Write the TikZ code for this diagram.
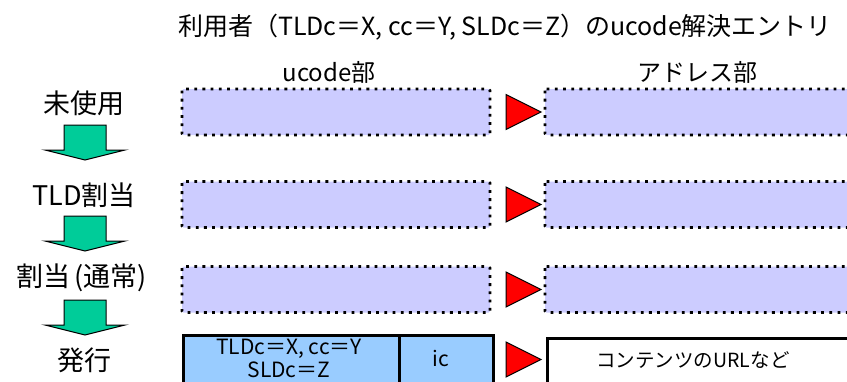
\documentclass[tikz,border=0pt]{standalone}
\usepackage{fontspec}
\setmainfont{Noto Sans CJK JP}
\begin{document}
\begin{tikzpicture}[x=1pt,y=-1pt,
  dotbox/.style={draw=black,line width=2.6pt,dash pattern=on 2.8pt off 5.4pt,fill=lav,rounded corners=1.5pt},
  solidbox/.style={draw=black,line width=3pt},
  tri/.style={draw=black,line width=1pt,fill=red},
  garrow/.style={draw=black,line width=1pt,fill=tealg},
  lbl/.style={font=\fontsize{27}{30}\selectfont,inner sep=0pt},
  hdr/.style={font=\fontsize{24}{26}\selectfont,inner sep=0pt},
  small/.style={font=\fontsize{19.5}{23}\selectfont,inner sep=0pt,align=center}]
\definecolor{lav}{HTML}{CCCCFF}
\definecolor{tealg}{HTML}{00CC99}
\definecolor{lblue}{HTML}{99CCFF}
\useasboundingbox (0,0) rectangle (847,381);
% title and headers
\node[hdr,font=\fontsize{25}{28}\selectfont] (title) at (505,27) {利用者（TLDc＝X, cc＝Y, SLDc＝Z）のucode解決エントリ};
\node[hdr] (hu) at (329,72) {ucode部};
\node[hdr] (ha) at (697,72) {アドレス部};
% left labels
\node[lbl] (l1) at (84,103) {未使用};
\node[lbl] (l2) at (84,195) {TLD割当};
\node[lbl] (l3) at (84,278) {割当\,(通常)\,};
\node[lbl] (l4) at (84,360) {発行};
% green arrows
\foreach \t/\n in {125/a1,216/a2,300/a3}{
  \draw[garrow] (64,\t) -- (106,\t) -- (106,\t+25) -- (125,\t+25) -- (85,\t+35) -- (45,\t+25) -- (64,\t+25) -- cycle;
}
% rows of dotted boxes
\foreach \c/\n in {112/r1,204.5/r2,289.5/r3}{
  \draw[dotbox] (182,\c-23) rectangle (490,\c+23);
  \draw[dotbox] (545,\c-23) rectangle (860,\c+23);
  \draw[tri] (506,\c-17.5) -- (541,\c) -- (506,\c+17.5) -- cycle;
}
% issued row
\node[solidbox,fill=lblue,minimum width=216pt,minimum height=70pt,anchor=north west,inner sep=0pt] (tl) at (181.5,333.5) {};
\node[solidbox,fill=lblue,minimum width=94pt,minimum height=70pt,anchor=north west,inner sep=0pt] (ic) at (397.5,333.5) {};
\node[solidbox,fill=white,minimum width=320pt,minimum height=70pt,anchor=north west,inner sep=0pt] (url) at (545.5,336.5) {};
\node[small,font=\fontsize{21}{23}\selectfont] (tlt) at (289,358) {TLDc＝X, cc＝Y\\SLDc＝Z};
\node[small,font=\fontsize{21}{23}\selectfont] (ict) at (441,358) {ic};
\node[small] (urlt) at (693,360) {コンテンツのURLなど};
\draw[tri] (506,342) -- (541,359.5) -- (506,377) -- cycle;
\end{tikzpicture}
\end{document}
